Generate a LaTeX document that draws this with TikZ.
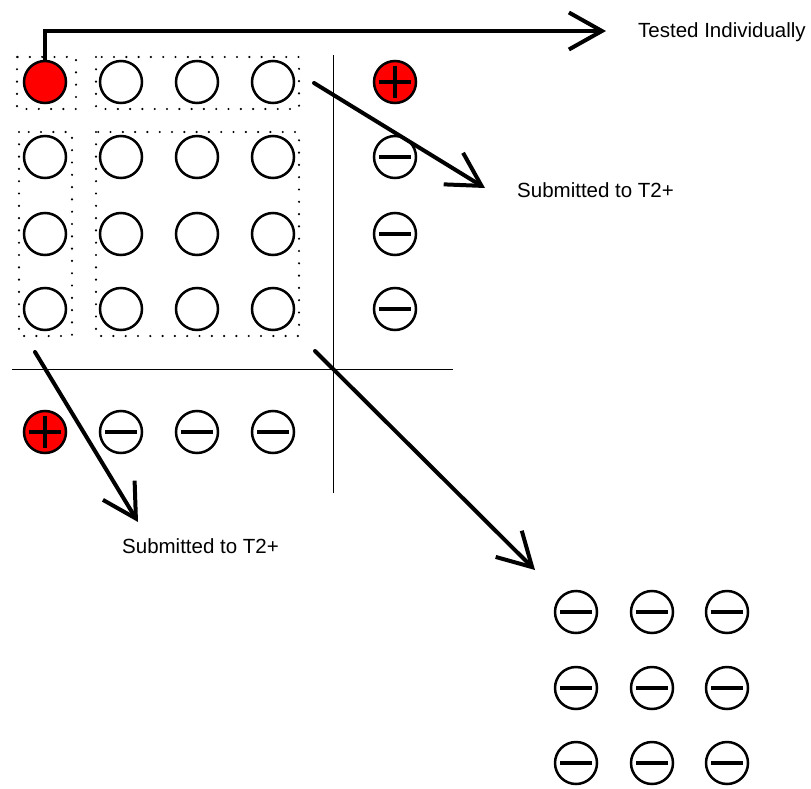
\documentclass[tikz,border=0pt]{standalone}
\usepackage{fontspec}
\setmainfont{Liberation Sans}
\usetikzlibrary{arrows.meta}
\begin{document}
\begin{tikzpicture}[x=1pt,y=-1pt,
  ball/.style={circle,draw,line width=2.5pt,minimum size=42pt,inner sep=0pt},
  blank/.style={ball,fill=white},
  redball/.style={ball,fill=red},
  negball/.style={ball,fill=white,path picture={\fill[black] (path picture bounding box.center) ++(-16pt,-2.4pt) rectangle ++(32pt,4.8pt);}},
  posball/.style={ball,fill=red,path picture={\fill[black] (path picture bounding box.center) ++(-16pt,-2.4pt) rectangle ++(32pt,4.8pt);
     \fill[black] (path picture bounding box.center) ++(-2.4pt,-16pt) rectangle ++(4.8pt,32pt);}},
  dotbox/.style={line width=2.4pt,line cap=round,dash pattern=on 0pt off 12.3pt},
  bigarrow/.style={line width=4pt,line cap=round,-{Straight Barb[length=33pt,width=37pt,line width=4pt]}},
  thin/.style={line width=1pt},
  lbl/.style={font=\fontsize{20.5pt}{22pt}\selectfont,inner sep=0pt,anchor=west}
]
\useasboundingbox (0,0) rectangle (811,789);
% dotted groups
\draw[dotbox] (17,57) rectangle (76,109);
\draw[dotbox] (96,57) rectangle (299,109);
\draw[dotbox] (19,132) rectangle (72,336);
\draw[dotbox] (96,132) rectangle (299,336);
% axes
\draw[thin] (333,55) -- (333,493);
\draw[thin] (12,369) -- (453,369);
% main grid
\node[redball] (r1c1) at (45,82) {};
\node[blank] (r1c2) at (121,82) {};
\node[blank] (r1c3) at (197,82) {};
\node[blank] (r1c4) at (273,82) {};
\node[blank] (r2c1) at (45,157) {};
\node[blank] (r2c2) at (121,157) {};
\node[blank] (r2c3) at (197,157) {};
\node[blank] (r2c4) at (273,157) {};
\node[blank] (r3c1) at (45,234) {};
\node[blank] (r3c2) at (121,234) {};
\node[blank] (r3c3) at (197,234) {};
\node[blank] (r3c4) at (273,234) {};
\node[blank] (r4c1) at (45,309) {};
\node[blank] (r4c2) at (121,309) {};
\node[blank] (r4c3) at (197,309) {};
\node[blank] (r4c4) at (273,309) {};
% right column
\node[posball] (rt1) at (395,82) {};
\node[negball] (rt2) at (395,157) {};
\node[negball] (rt3) at (395,234) {};
\node[negball] (rt4) at (395,309) {};
% bottom row
\node[posball] (bt1) at (45,432) {};
\node[negball] (bt2) at (121,432) {};
\node[negball] (bt3) at (197,432) {};
\node[negball] (bt4) at (273,432) {};
% bottom right grid
\node[negball] (g11) at (576,612) {};
\node[negball] (g12) at (652,612) {};
\node[negball] (g13) at (727,612) {};
\node[negball] (g21) at (576,688) {};
\node[negball] (g22) at (652,688) {};
\node[negball] (g23) at (727,688) {};
\node[negball] (g31) at (576,763) {};
\node[negball] (g32) at (652,763) {};
\node[negball] (g33) at (727,763) {};
% labels
\node[lbl] (tested) at (638,32) {Tested Individually};
\node[lbl] (sub1) at (517,190) {Submitted to T2+};
\node[lbl] (sub2) at (122,546) {Submitted to T2+};
% arrow endpoints
\coordinate (a1turn) at (45,31);
\coordinate (a1end) at (606,31);
\coordinate (a2s) at (314,83);
\coordinate (a2e) at (485,188);
\coordinate (a3s) at (35,352);
\coordinate (a3e) at (138,522);
\coordinate (a4s) at (315,351);
\coordinate (a4e) at (535,570);
% arrows
\draw[bigarrow] (r1c1.north) -- (a1turn) -- (a1end);
\draw[bigarrow] (a2s) -- (a2e);
\draw[bigarrow] (a3s) -- (a3e);
\draw[bigarrow] (a4s) -- (a4e);
\end{tikzpicture}
\end{document}
